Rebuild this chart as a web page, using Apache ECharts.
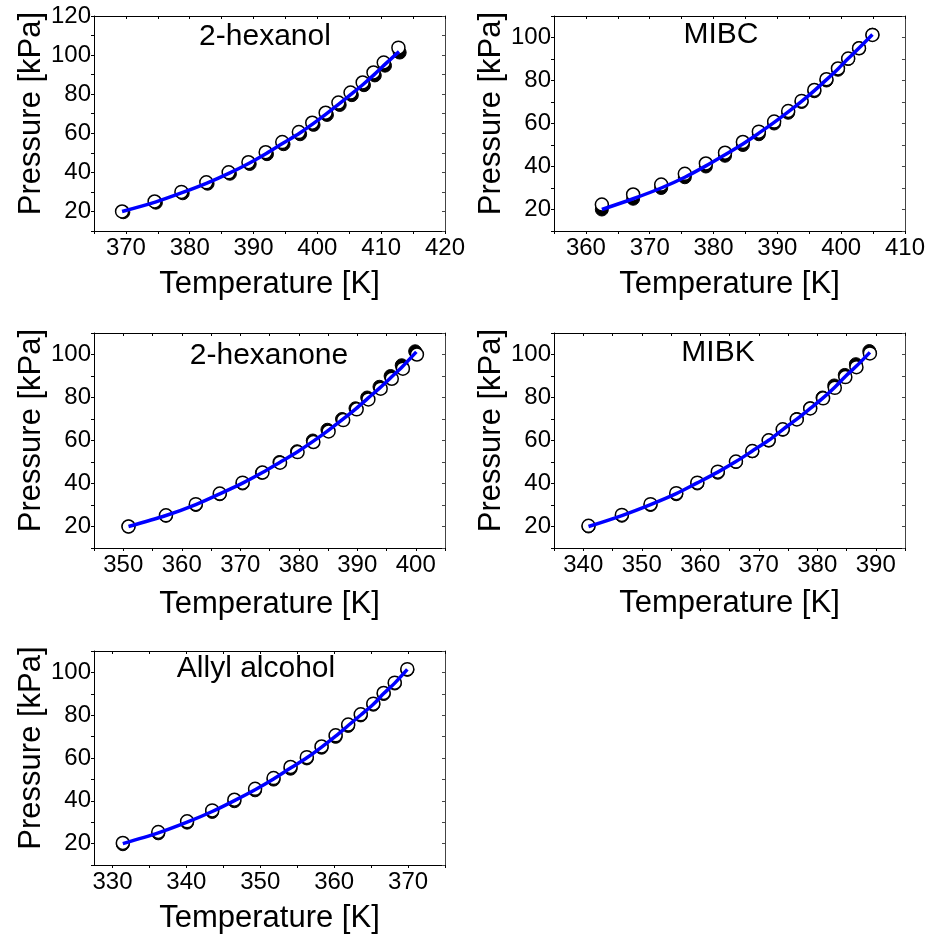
<!DOCTYPE html>
<html><head><meta charset="utf-8">
<script src="https://cdn.jsdelivr.net/npm/echarts@6/dist/echarts.min.js"></script>
<style>html,body{margin:0;padding:0;background:#fff}#c{width:928px;height:938px}</style>
</head><body><div id="c"></div>
<script>
// ---------- text ----------
const panelTitles = ['2-hexanol', 'MIBC', '2-hexanone', 'MIBK', 'Allyl alcohol'];
const xAxisTitle = 'Temperature [K]';
const yAxisTitle = 'Pressure [kPa]';

// ---------- 2-hexanol ----------
const hexanolOpenT   = [369.4,374.5,378.7,382.6,386.1,389.2,391.9,394.5,397.1,399.2,401.3,403.3,405.2,407.1,408.8,410.4,412.7];
const hexanolOpenP   = [20.0,25.1,30.0,34.9,40.0,45.2,50.3,55.5,60.6,65.4,70.5,75.7,80.8,86.0,91.1,96.2,103.8];
const hexanolFilledT = [369.6,374.7,378.9,382.8,386.3,389.4,392.1,394.7,397.3,399.4,401.5,403.5,405.4,407.3,409.0,410.6,412.9];
const hexanolFilledP = [19.6,24.5,29.3,34.2,39.3,44.3,49.3,54.4,59.5,64.3,69.4,74.5,79.5,84.6,89.6,94.6,101.3];
const hexanolFitT    = [369.4,374.6,378.8,382.7,386.2,389.3,392.0,394.6,397.2,399.3,401.4,403.4,405.3,407.2,408.9,410.5,412.8];
const hexanolFitP    = [20.0,24.8,29.6,34.5,39.6,44.7,49.7,54.9,60.0,64.8,69.9,75.0,80.0,85.1,90.0,95.0,101.8];

// ---------- MIBC ----------
const mibcOpenT   = [362.5,367.4,371.8,375.5,378.8,381.8,384.6,387.1,389.5,391.7,393.8,395.8,397.7,399.5,401.1,402.8,404.9];
const mibcOpenP   = [22.3,27.0,31.6,36.6,41.4,46.4,51.4,56.2,60.9,65.8,70.5,75.6,80.6,85.6,90.2,95.0,101.2];
const mibcFilledT = [362.5,367.4,371.8,375.5,378.8,381.8,384.6,387.1,389.5,391.7,393.8,395.8,397.7,399.5,401.1,402.8,404.9];
const mibcFilledP = [20.0,25.0,30.0,35.0,40.0,45.0,50.0,55.0,60.0,65.0,70.0,75.0,80.0,85.0,90.0,95.0,101.3];
const mibcFitT    = [362.5,367.4,371.8,375.5,378.8,381.8,384.6,387.1,389.5,391.7,393.8,395.8,397.7,399.5,401.1,402.8,404.9];
const mibcFitP    = [20.0,25.0,30.0,35.0,40.3,45.5,50.5,55.5,60.5,65.4,70.3,75.3,80.4,85.4,90.2,95.1,101.4];

// ---------- 2-hexanone ----------
const hexanoneOpenT   = [350.9,357.3,362.4,366.5,370.4,373.8,376.8,379.8,382.5,385.1,387.6,389.9,391.9,394.0,395.9,397.8,400.2];
const hexanoneOpenP   = [20.0,25.2,30.4,35.3,40.4,45.1,49.7,54.6,59.3,64.2,69.5,74.5,79.1,84.1,88.7,93.4,100.0];
const hexanoneFilledT = [350.9,357.3,362.4,366.5,370.4,373.7,376.7,379.7,382.4,384.9,387.4,389.7,391.7,393.8,395.7,397.6,399.9];
const hexanoneFilledP = [20.0,25.0,30.0,35.0,40.0,45.0,50.0,55.0,60.0,65.0,70.0,75.0,80.0,85.0,90.0,95.0,101.5];
const hexanoneFitT    = [350.9,357.3,362.4,366.5,370.4,373.8,376.8,379.8,382.5,385.0,387.5,389.8,391.8,393.9,395.8,397.7,400.1];
const hexanoneFitP    = [20.0,25.1,30.2,35.2,40.2,45.1,49.9,54.8,59.7,64.6,69.8,74.8,79.6,84.6,89.4,94.3,101.2];

// ---------- MIBK ----------
const mibkOpenT   = [340.9,346.6,351.5,355.9,359.5,363.0,366.1,368.9,371.7,374.1,376.5,378.8,381.0,383.0,384.8,386.7,389.0];
const mibkOpenP   = [20.3,25.4,30.4,35.5,40.4,45.5,50.2,55.1,60.1,65.2,69.8,74.9,79.6,84.5,89.5,94.1,100.5];
const mibkFilledT = [340.9,346.6,351.5,355.9,359.5,363.0,366.1,368.9,371.7,374.1,376.5,378.8,380.9,382.9,384.7,386.6,388.9];
const mibkFilledP = [20.0,25.0,30.0,35.0,40.0,45.0,50.0,55.0,60.0,65.0,70.0,75.0,80.0,85.6,90.5,95.5,101.6];
const mibkFitT    = [340.9,346.6,351.5,355.9,359.5,363.0,366.1,368.9,371.7,374.1,376.5,378.8,381.0,383.0,384.8,386.7,389.0];
const mibkFitP    = [20.0,25.1,30.2,35.3,40.3,45.3,50.2,55.1,60.1,65.1,69.9,74.9,79.8,84.8,89.8,94.6,101.0];

// ---------- Allyl alcohol ----------
const allylOpenT   = [331.4,336.2,340.1,343.5,346.5,349.3,351.8,354.1,356.3,358.3,360.2,361.9,363.6,365.3,366.7,368.2,369.9];
const allylOpenP   = [20.3,25.4,30.4,35.5,40.5,45.6,50.6,55.8,60.4,65.4,70.6,75.6,80.4,85.4,90.4,95.2,101.5];
const allylFilledT = [331.4,336.2,340.1,343.5,346.5,349.3,351.8,354.1,356.3,358.3,360.2,361.9,363.6,365.3,366.7,368.2,369.9];
const allylFilledP = [19.7,24.8,29.8,34.8,39.8,44.9,49.9,55.0,59.8,64.8,69.9,75.0,79.9,84.9,89.9,94.8,101.2];
const allylFitT    = [331.4,336.2,340.1,343.5,346.5,349.3,351.8,354.1,356.3,358.3,360.2,361.9,363.6,365.3,366.7,368.2,369.9];
const allylFitP    = [20.0,25.0,30.0,35.0,40.1,45.2,50.2,55.3,60.1,65.1,70.2,75.2,80.1,85.1,90.1,95.0,101.4];

// ---------- axis ranges and ticks ----------
const xMins = [365, 355, 345, 335, 327.5];
const xMaxs = [420, 410, 405, 395, 375];
const yMins = [10, 10, 10, 10, 10];
const yMaxs = [120, 110, 110, 110, 110];
const xLabels = [
  [370,380,390,400,410,420],
  [360,370,380,390,400,410],
  [350,360,370,380,390,400],
  [340,350,360,370,380,390],
  [330,340,350,360,370]
];
const xTicks = [
  [365,370,375,380,385,390,395,400,405,410,415,420],
  [355,360,365,370,375,380,385,390,395,400,405,410],
  [345,350,355,360,365,370,375,380,385,390,395,400,405],
  [335,340,345,350,355,360,365,370,375,380,385,390,395],
  [330,335,340,345,350,355,360,365,370,375]
];
const yLabels = [
  [20,40,60,80,100,120],
  [20,40,60,80,100],
  [20,40,60,80,100],
  [20,40,60,80,100],
  [20,40,60,80,100]
];
const yTicks = [
  [10,20,30,40,50,60,70,80,90,100,110,120],
  [10,20,30,40,50,60,70,80,90,100,110],
  [10,20,30,40,50,60,70,80,90,100,110],
  [10,20,30,40,50,60,70,80,90,100,110],
  [10,20,30,40,50,60,70,80,90,100,110]
];

const openT = [hexanolOpenT, mibcOpenT, hexanoneOpenT, mibkOpenT, allylOpenT];
const openP = [hexanolOpenP, mibcOpenP, hexanoneOpenP, mibkOpenP, allylOpenP];
const filledT = [hexanolFilledT, mibcFilledT, hexanoneFilledT, mibkFilledT, allylFilledT];
const filledP = [hexanolFilledP, mibcFilledP, hexanoneFilledP, mibkFilledP, allylFilledP];
const fitT = [hexanolFitT, mibcFitT, hexanoneFitT, mibkFitT, allylFitT];
const fitP = [hexanolFitP, mibcFitP, hexanoneFitP, mibkFitP, allylFitP];

// ---------- layout ----------
const grids = [
  {left: 94, top: 16, width: 351, height: 215},
  {left: 554, top: 16, width: 351, height: 215},
  {left: 94, top: 333, width: 351, height: 215},
  {left: 554, top: 333, width: 351, height: 215},
  {left: 94, top: 651, width: 351, height: 214}
];
const xNameGaps = [38, 38, 41, 40, 38];
const titlePos = [[265, 37], [721, 35], [269, 356], [718, 353], [256, 669]];

const FONT = '"Liberation Sans", Arial, sans-serif';
const zip = (a, b) => a.map((v, i) => [v, b[i]]);

const option = {
  animation: false,
  backgroundColor: '#fff',
  grid: [], xAxis: [], yAxis: [], series: [], graphic: []
};

grids.forEach((g, i) => {
  option.grid.push(Object.assign({containLabel: false}, g));
  option.xAxis.push({
    type: 'value', gridIndex: i, position: 'bottom', min: xMins[i], max: xMaxs[i],
    name: xAxisTitle, nameLocation: 'middle', nameGap: xNameGaps[i],
    nameTextStyle: {fontFamily: FONT, fontSize: 31, color: '#000'},
    axisLine: {show: true, onZero: false, lineStyle: {color: '#000', width: 1}},
    axisTick: {show: true, inside: false, length: 3, customValues: xTicks[i], lineStyle: {color: '#000'}},
    axisLabel: {show: true, customValues: xLabels[i], margin: 5, fontFamily: FONT, fontSize: 24, color: '#000'},
    splitLine: {show: false}
  });
  option.xAxis.push({
    type: 'value', gridIndex: i, position: 'top', min: xMins[i], max: xMaxs[i],
    axisLine: {show: true, onZero: false, lineStyle: {color: '#000', width: 1}},
    axisTick: {show: true, inside: true, length: 3, customValues: xTicks[i], lineStyle: {color: '#000'}},
    axisLabel: {show: false}, splitLine: {show: false}
  });
  option.yAxis.push({
    type: 'value', gridIndex: i, position: 'left', min: yMins[i], max: yMaxs[i],
    name: yAxisTitle, nameLocation: 'middle', nameGap: 47,
    nameTextStyle: {fontFamily: FONT, fontSize: 31, color: '#000', padding: [0, 0, 0, 20]},
    axisLine: {show: true, onZero: false, lineStyle: {color: '#000', width: 1}},
    axisTick: {show: true, inside: false, length: 3, customValues: yTicks[i], lineStyle: {color: '#000'}},
    axisLabel: {show: true, customValues: yLabels[i], margin: 3, fontFamily: FONT, fontSize: 24, color: '#000'},
    splitLine: {show: false}
  });
  option.yAxis.push({
    type: 'value', gridIndex: i, position: 'right', min: yMins[i], max: yMaxs[i],
    axisLine: {show: true, onZero: false, lineStyle: {color: '#444', width: 1}},
    axisTick: {show: true, inside: true, length: 3, customValues: yTicks[i], lineStyle: {color: '#444'}},
    axisLabel: {show: false}, splitLine: {show: false}
  });
  const xi = i * 2, yi = i * 2;
  option.series.push({
    type: 'scatter', xAxisIndex: xi, yAxisIndex: yi, z: 2,
    symbol: 'circle', symbolSize: 13,
    itemStyle: {color: '#000', borderColor: '#000', borderWidth: 1, opacity: 1},
    emphasis: {disabled: true},
    data: zip(filledT[i], filledP[i])
  });
  option.series.push({
    type: 'scatter', xAxisIndex: xi, yAxisIndex: yi, z: 3,
    symbol: 'circle', symbolSize: 13,
    itemStyle: {color: '#fff', borderColor: '#000', borderWidth: 1.5, opacity: 1},
    emphasis: {disabled: true},
    data: zip(openT[i], openP[i])
  });
  option.series.push({
    type: 'line', xAxisIndex: xi, yAxisIndex: yi, z: 4,
    showSymbol: false, smooth: 0.3,
    lineStyle: {color: '#0000ff', width: 3.5},
    data: zip(fitT[i], fitP[i])
  });
  option.graphic.push({
    type: 'text', x: titlePos[i][0], y: titlePos[i][1], z: 10,
    style: {text: panelTitles[i], fontFamily: FONT, fontSize: 30, fill: '#000',
      textAlign: 'center', textVerticalAlign: 'middle'}
  });
});

const chart = echarts.init(document.getElementById('c'), null, {renderer: 'canvas'});
chart.setOption(option);
</script>
</body></html>
